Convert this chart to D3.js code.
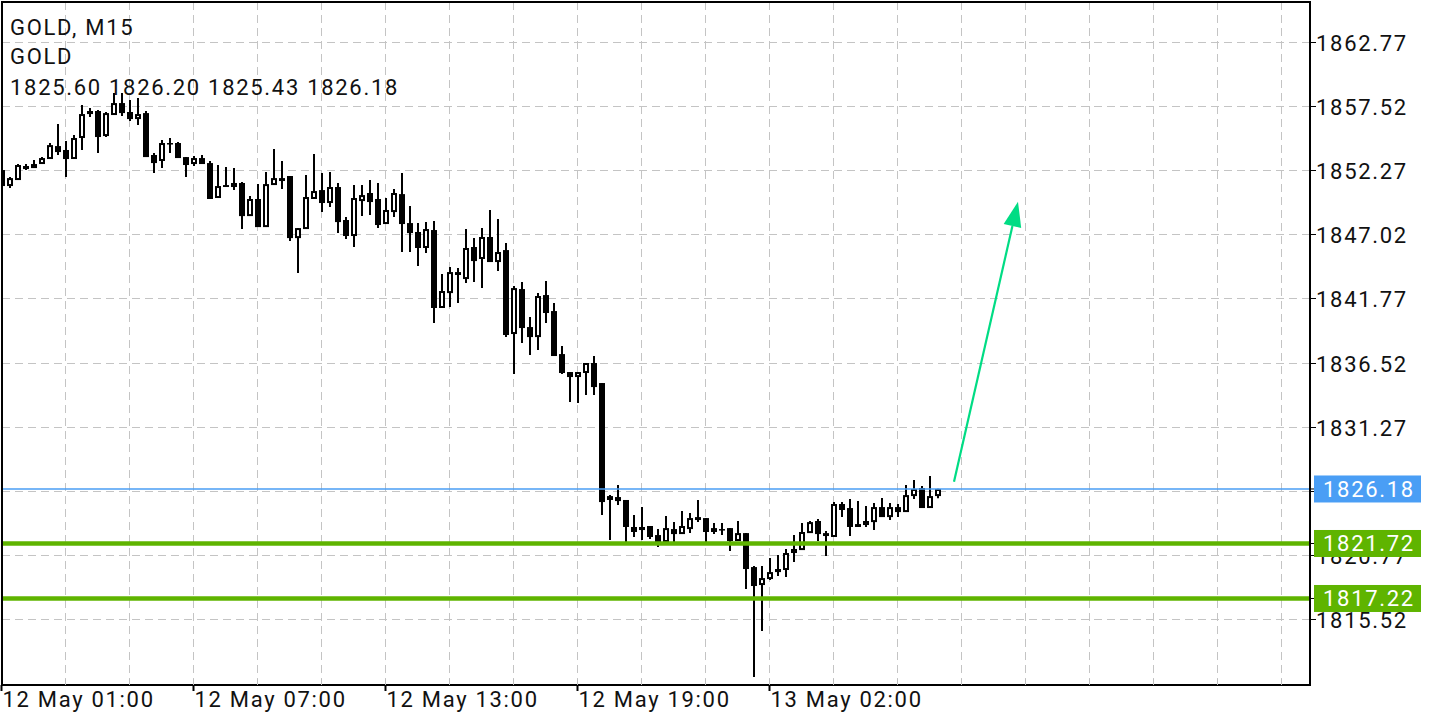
<!DOCTYPE html>
<html>
<head>
<meta charset="utf-8">
<script src="https://cdn.jsdelivr.net/npm/d3@7/dist/d3.min.js"></script>
<style>
  html, body { margin: 0; padding: 0; background: #fff; }
  svg { display: block; }
  text { font-family: Roboto, "Noto Sans", sans-serif; font-size: 22px; letter-spacing: 1.7px; }
</style>
</head>
<body>
<svg id="chart" width="1440" height="720"></svg>
<script>
// ---- DATA (GOLD, M15) ----
const symbol = "GOLD";
const timeframe = "M15";
const open = [1852.28,1850.97,1851.46,1852.61,1852.44,1852.77,1853.18,1854.24,1853.92,1853.18,
1854.90,1856.86,1857.11,1855.06,1856.78,1857.76,1857.03,1856.45,1856.94,1853.51,
1853.02,1854.49,1854.49,1853.34,1852.77,1853.26,1852.85,1849.99,1851.05,1850.89,
1851.22,1848.51,1849.91,1847.61,1851.05,1851.38,1851.79,1846.71,1847.45,1849.91,
1850.64,1849.58,1850.89,1848.19,1846.88,1849.74,1850.40,1849.91,1847.86,1848.84,
1850.31,1847.94,1847.21,1845.90,1847.37,1840.99,1842.21,1843.93,1843.36,1845.98,
1845.00,1846.80,1844.75,1845.73,1838.86,1842.54,1839.43,1838.61,1842.05,1840.74,
1837.22,1835.75,1835.34,1835.67,1836.49,1834.85,1825.60,1825.52,1825.28,1823.07,
1822.82,1823.15,1822.41,1821.84,1822.90,1822.49,1822.90,1823.88,1823.80,1822.98,
1822.90,1822.98,1821.92,1822.57,1819.79,1818.32,1818.81,1819.63,1819.55,1820.94,
1821.18,1822.57,1823.56,1822.57,1822.25,1824.95,1824.62,1823.31,1823.23,1823.47,
1824.70,1823.88,1824.70,1824.29,1825.60,1826.26,1824.62,1825.60];
const high = [1852.61,1851.71,1852.77,1852.77,1853.10,1853.34,1854.49,1856.04,1854.65,1855.14,
1857.60,1857.35,1857.19,1857.03,1858.58,1858.58,1858.01,1858.17,1857.11,1853.67,
1854.73,1854.90,1854.57,1853.34,1853.42,1853.51,1853.02,1852.69,1852.52,1852.44,
1851.30,1850.15,1851.13,1852.12,1854.00,1853.02,1851.79,1847.53,1851.87,1853.59,
1852.03,1852.12,1851.22,1848.43,1851.05,1851.05,1851.46,1851.22,1849.99,1850.72,
1852.03,1849.33,1847.94,1848.02,1848.11,1843.77,1844.34,1844.26,1847.45,1846.71,
1847.53,1849.01,1848.27,1846.31,1842.79,1843.11,1840.25,1842.21,1843.20,1841.40,
1837.88,1835.75,1835.75,1836.49,1837.06,1834.85,1825.68,1826.50,1825.28,1824.05,
1824.70,1823.15,1822.90,1823.97,1823.47,1824.37,1824.21,1825.28,1823.80,1823.39,
1823.39,1822.98,1823.56,1822.57,1819.87,1819.87,1820.53,1820.77,1821.27,1822.41,
1823.39,1823.56,1823.72,1822.74,1825.11,1825.11,1825.36,1825.19,1824.78,1825.03,
1825.44,1825.03,1824.95,1826.50,1826.91,1826.42,1827.24,1826.20];
const low = [1850.81,1850.81,1851.46,1852.28,1852.44,1852.77,1853.18,1853.51,1851.71,1853.18,
1853.92,1856.62,1853.67,1854.98,1856.78,1856.70,1856.29,1855.96,1853.34,1852.03,
1852.44,1853.67,1853.26,1851.71,1852.61,1852.77,1849.91,1849.99,1850.89,1850.64,
1847.45,1848.51,1847.61,1847.61,1851.05,1850.72,1846.47,1843.85,1847.45,1849.91,
1848.84,1849.25,1847.12,1846.63,1845.98,1848.51,1848.60,1847.53,1847.86,1848.43,
1845.57,1845.57,1844.42,1845.49,1839.76,1840.99,1841.07,1841.40,1843.03,1843.11,
1842.62,1844.75,1844.01,1838.61,1835.59,1838.12,1837.14,1837.55,1839.76,1837.06,
1835.59,1833.29,1833.21,1833.87,1833.87,1824.05,1822.00,1824.87,1821.84,1822.25,
1822.00,1822.08,1821.43,1821.84,1821.84,1822.49,1822.57,1823.47,1821.84,1822.49,
1822.41,1821.10,1821.92,1817.99,1810.79,1814.56,1818.73,1819.06,1818.97,1820.20,
1821.18,1822.57,1821.92,1820.69,1822.25,1823.88,1822.33,1823.07,1823.07,1822.82,
1823.88,1823.64,1823.88,1824.29,1825.36,1824.62,1824.62,1825.43];
const close = [1850.97,1851.62,1852.69,1852.36,1852.77,1853.26,1854.32,1853.75,1853.18,1854.90,
1856.86,1857.11,1854.98,1856.94,1857.76,1856.94,1856.45,1856.86,1853.34,1852.85,
1854.49,1854.41,1853.26,1852.69,1853.26,1852.77,1849.91,1850.97,1850.89,1851.22,
1848.51,1849.91,1847.61,1851.13,1851.62,1851.62,1846.71,1847.53,1850.07,1850.56,
1849.58,1850.89,1848.02,1846.88,1849.99,1850.23,1849.66,1847.78,1849.01,1850.40,
1847.86,1847.12,1845.90,1847.45,1840.99,1842.38,1843.93,1843.69,1845.90,1844.83,
1846.80,1844.75,1845.57,1838.78,1842.62,1839.35,1838.61,1841.97,1840.58,1837.06,
1835.67,1835.34,1835.75,1836.49,1834.52,1825.11,1825.28,1825.19,1823.07,1822.66,
1823.07,1822.25,1821.84,1822.98,1822.49,1823.15,1823.80,1823.64,1822.66,1822.66,
1822.82,1821.92,1822.57,1819.63,1818.24,1818.89,1819.38,1819.38,1820.94,1821.27,
1822.66,1823.47,1822.49,1822.33,1824.95,1824.46,1823.07,1823.07,1823.56,1824.70,
1823.88,1824.70,1824.29,1825.68,1826.18,1824.62,1825.60,1826.18];

const timeLabels = ["12 May 01:00","12 May 07:00","12 May 13:00","12 May 19:00","13 May 02:00"];
const timeLabelBar = [0, 24, 48, 72, 96];
const priceTicks = [1862.77,1857.52,1852.27,1847.02,1841.77,1836.52,1831.27,1826.02,1820.77,1815.52];
const levels = [1821.72, 1817.22];
const arrowFrom = [119, 1826.77];   // [bar index, price]
const arrowTo = [127, 1849.69];

// ---- LAYOUT ----
const L = 2, T = 2, R = 1310, B = 685;
const svg = d3.select("#chart");
const x = d3.scaleLinear().domain([0, 1]).range([2, 10]);     // 8 px per bar
const y = d3.scaleLinear().domain([1810.14, 1866.03]).range([B, T]);
const fmt = d3.format(".2f");
const colBlue = "#4a9ef5", colGreen = "#5fb400", colArrow = "#00dc84";

svg.append("defs").append("clipPath").attr("id","plot")
  .append("rect").attr("x", L).attr("y", T).attr("width", R - L).attr("height", B - T);

// grid
const grid = svg.append("g").attr("stroke", "#c4c4c4").attr("stroke-width", 1)
  .attr("stroke-dasharray", "8,5");
d3.range(8, 161, 8).forEach(i => {
  const gx = x(i) - 0.5;
  if (gx < R) grid.append("line").attr("x1", gx).attr("x2", gx).attr("y1", T).attr("y2", B);
});
priceTicks.forEach(p => {
  const gy = Math.round(y(p)) + 0.5;
  grid.append("line").attr("x1", L).attr("x2", R).attr("y1", gy).attr("y2", gy);
});

// candles
const bars = d3.range(open.length).map(i => ({i, o: open[i], h: high[i], l: low[i], c: close[i]}));
const cg = svg.append("g").attr("clip-path", "url(#plot)");
cg.selectAll("line.wick").data(bars).join("line")
  .attr("x1", d => x(d.i)).attr("x2", d => x(d.i))
  .attr("y1", d => y(d.h)).attr("y2", d => y(d.l))
  .attr("stroke", "#000").attr("stroke-width", 2);
cg.selectAll("rect.body").data(bars).join("rect")
  .each(function(d) {
    const top = y(Math.max(d.o, d.c)), bot = y(Math.min(d.o, d.c));
    const hgt = bot - top;
    const s = d3.select(this);
    if (d.c > d.o) {
      s.attr("x", x(d.i) - 2).attr("width", 4)
       .attr("y", top + 1).attr("height", Math.max(0.6, hgt - 2))
       .attr("fill", "#fff").attr("stroke", "#000").attr("stroke-width", 2);
    } else {
      s.attr("x", x(d.i) - 3).attr("width", 6)
       .attr("y", top).attr("height", Math.max(1.5, hgt))
       .attr("fill", "#000");
    }
  });

// level lines and price line
const last = bars[bars.length - 1];
levels.forEach(p => {
  svg.append("line").attr("x1", L).attr("x2", R).attr("y1", y(p)).attr("y2", y(p))
    .attr("stroke", colGreen).attr("stroke-width", 4.5);
});
svg.append("line").attr("x1", L).attr("x2", R).attr("y1", y(last.c)).attr("y2", y(last.c))
  .attr("stroke", colBlue).attr("stroke-width", 1.5);

// arrow
{
  const x1 = x(arrowFrom[0]), y1 = y(arrowFrom[1]), x2 = x(arrowTo[0]), y2 = y(arrowTo[1]);
  const dx = x2 - x1, dy = y2 - y1, len = Math.hypot(dx, dy);
  const ux = dx / len, uy = dy / len, hl = 25, hw = 9;
  const bx = x2 - ux * hl, by = y2 - uy * hl;
  svg.append("line").attr("x1", x1).attr("y1", y1).attr("x2", bx).attr("y2", by)
    .attr("stroke", colArrow).attr("stroke-width", 2.2);
  svg.append("polygon")
    .attr("points", [[x2, y2], [bx - uy * hw, by + ux * hw], [bx + uy * hw, by - ux * hw]].map(p => p.join(",")).join(" "))
    .attr("fill", colArrow);
}

// frame
svg.append("rect").attr("x", L).attr("y", T).attr("width", R - L).attr("height", B - T)
  .attr("fill", "none").attr("stroke", "#000").attr("stroke-width", 2);

// right price axis (labels fully hidden behind a price tag are not drawn)
const tagPrices = [last.c].concat(levels);
const ra = svg.append("g");
priceTicks.forEach(p => {
  const ty = Math.round(y(p)) + 0.5;
  ra.append("line").attr("x1", R).attr("x2", R + 6).attr("y1", ty).attr("y2", ty)
    .attr("stroke", "#000").attr("stroke-width", 1);
  const hidden = tagPrices.some(tp => Math.abs(y(tp) - y(p)) < 8);
  if (!hidden) ra.append("text").attr("x", R + 6).attr("y", ty + 8).attr("fill", "#111").text(fmt(p));
});
function tagBox(p, color) {
  const cy = y(p);
  ra.append("line").attr("x1", R).attr("x2", R + 5).attr("y1", cy).attr("y2", cy)
    .attr("stroke", "#000").attr("stroke-width", 1);
  ra.append("rect").attr("x", R + 4).attr("y", cy - 13.5).attr("width", 107).attr("height", 27)
    .attr("fill", color);
  ra.append("text").attr("x", R + 13).attr("y", cy + 8).attr("fill", "#fff").text(fmt(p));
}
tagBox(last.c, colBlue);
levels.forEach(p => tagBox(p, colGreen));

// bottom time axis
const ba = svg.append("g");
d3.range(8, 161, 8).forEach(i => {
  const gx = x(i) - 0.5;
  if (gx < R) ba.append("line").attr("x1", gx).attr("x2", gx).attr("y1", B - 6).attr("y2", B)
    .attr("stroke", "#bdbdbd").attr("stroke-width", 1);
});
timeLabels.forEach((t, k) => {
  const gx = x(timeLabelBar[k]) - 0.5;
  ba.append("line").attr("x1", gx).attr("x2", gx).attr("y1", B).attr("y2", B + 6)
    .attr("stroke", "#000").attr("stroke-width", 2);
  ba.append("text").attr("x", gx + 1).attr("y", 707).attr("fill", "#111").text(t);
});

// header
const hdr = svg.append("g").attr("fill", "#111");
hdr.append("text").attr("x", 10).attr("y", 35).text(`${symbol}, ${timeframe}`);
hdr.append("text").attr("x", 10).attr("y", 64).text(symbol);
hdr.append("text").attr("x", 10).attr("y", 95)
  .text([last.o, last.h, last.l, last.c].map(fmt).join(" "));
</script>
</body>
</html>
